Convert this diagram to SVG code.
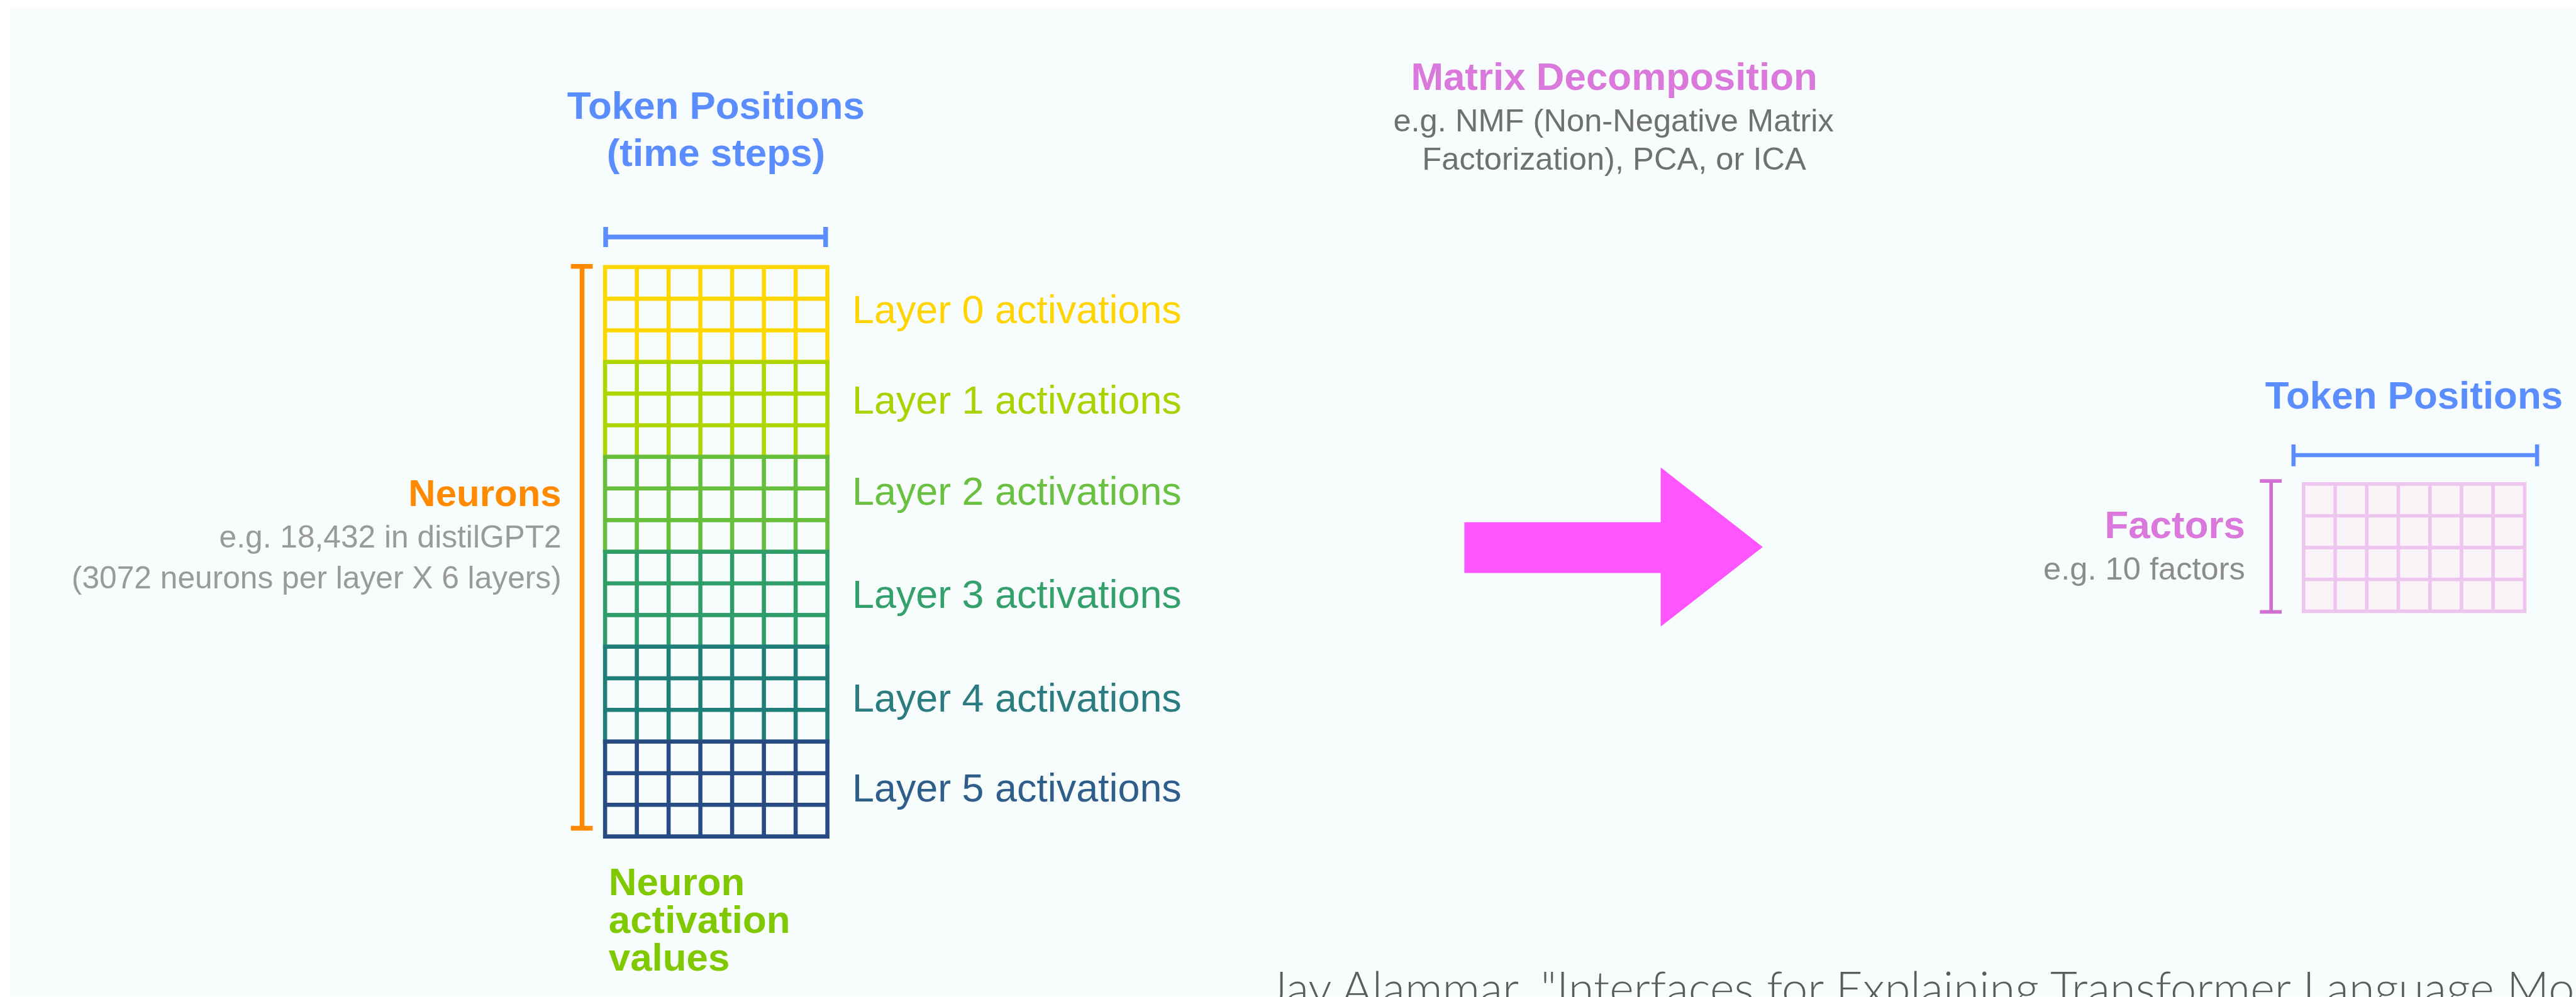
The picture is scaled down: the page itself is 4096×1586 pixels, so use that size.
<svg xmlns="http://www.w3.org/2000/svg" width="4096" height="1586" viewBox="0 0 4096 1586">
<style>
.b{font-family:"Liberation Sans",Arial,Helvetica,sans-serif;font-weight:bold}
.r{font-family:"Liberation Sans",Arial,Helvetica,sans-serif}
.mid{text-anchor:middle}
.end{text-anchor:end}
.grid{fill:none;stroke-width:7;stroke-linecap:square}
.brk{fill:none;stroke-width:8}
</style>
<rect width="4096" height="1586" fill="#ffffff"/>
<g transform="scale(0.937729)">
<rect x="17" y="15" width="4351" height="1676" fill="#F7FCFC"/>

<g id="token-positions-label">
<text class="b mid" x="1214" y="202" font-size="66" fill="#5B8DFF">Token Positions</text>
<text class="b mid" x="1214" y="282" font-size="66" fill="#5B8DFF">(time steps)</text>
<path class="brk" stroke="#5B8DFF" d="M1027,402H1400M1027,385V419M1400,385V419"/>
</g>

<g id="neurons-label">
<path class="brk" stroke="#FF8A00" d="M987,452V1405M968,452H1005M968,1405H1005"/>
<text class="b end" x="952" y="858" font-size="64" fill="#FF8A00">Neurons</text>
<text class="r end" x="952" y="929" font-size="53" fill="#9a9a9a">e.g. 18,432 in distilGPT2</text>
<text class="r end" x="952" y="998" font-size="53" fill="#9a9a9a">(3072 neurons per layer X 6 layers)</text>
</g>

<g id="activation-matrix">
<path class="grid" stroke="#FFD700" d="M1026,453H1403M1026,506.67H1403M1026,560.33H1403M1026,614H1403M1026,453V614M1079.86,453V614M1133.71,453V614M1187.57,453V614M1241.43,453V614M1295.29,453V614M1349.14,453V614M1403,453V614"/>
<path class="grid" stroke="#B0D400" d="M1026,614H1403M1026,667.67H1403M1026,721.33H1403M1026,775H1403M1026,614V775M1079.86,614V775M1133.71,614V775M1187.57,614V775M1241.43,614V775M1295.29,614V775M1349.14,614V775M1403,614V775"/>
<path class="grid" stroke="#66BE3A" d="M1026,775H1403M1026,828.67H1403M1026,882.33H1403M1026,936H1403M1026,775V936M1079.86,775V936M1133.71,775V936M1187.57,775V936M1241.43,775V936M1295.29,775V936M1349.14,775V936M1403,775V936"/>
<path class="grid" stroke="#2E9D68" d="M1026,936H1403M1026,989.67H1403M1026,1043.33H1403M1026,1097H1403M1026,936V1097M1079.86,936V1097M1133.71,936V1097M1187.57,936V1097M1241.43,936V1097M1295.29,936V1097M1349.14,936V1097M1403,936V1097"/>
<path class="grid" stroke="#1F7F78" d="M1026,1097H1403M1026,1150.67H1403M1026,1204.33H1403M1026,1258H1403M1026,1097V1258M1079.86,1097V1258M1133.71,1097V1258M1187.57,1097V1258M1241.43,1097V1258M1295.29,1097V1258M1349.14,1097V1258M1403,1097V1258"/>
<path class="grid" stroke="#284B84" d="M1026,1258H1403M1026,1311.67H1403M1026,1365.33H1403M1026,1419H1403M1026,1258V1419M1079.86,1258V1419M1133.71,1258V1419M1187.57,1258V1419M1241.43,1258V1419M1295.29,1258V1419M1349.14,1258V1419M1403,1258V1419"/>
</g>

<g id="layer-labels" class="r" font-size="67">
<text x="1445" y="548" fill="#FFD400">Layer 0 activations</text>
<text x="1445" y="702" fill="#A9D200">Layer 1 activations</text>
<text x="1445" y="856" fill="#6AC040">Layer 2 activations</text>
<text x="1445" y="1031" fill="#34A06C">Layer 3 activations</text>
<text x="1445" y="1207" fill="#2A7C80">Layer 4 activations</text>
<text x="1445" y="1360" fill="#2F5E8A">Layer 5 activations</text>
</g>

<g id="neuron-activation-values" class="b" font-size="66" fill="#80C800">
<text x="1032" y="1519">Neuron</text>
<text x="1032" y="1583">activation</text>
<text x="1032" y="1647">values</text>
</g>

<g id="matrix-decomposition">
<text class="b mid" x="2737" y="153" font-size="66" fill="#DA78DC">Matrix Decomposition</text>
<text class="r mid" x="2736" y="223" font-size="54" fill="#707070">e.g. NMF (Non-Negative Matrix</text>
<text class="r mid" x="2737" y="288" font-size="54" fill="#707070">Factorization), PCA, or ICA</text>
</g>

<g id="connectors">
<polygon points="2483,886 2816,886 2816,793 2989,928 2816,1063 2816,972 2483,972" fill="#FF55FF"/>
</g>

<g id="factor-matrix">
<text class="b" x="3841" y="693" font-size="66" fill="#5B8DFF">Token Positions</text>
<path fill="none" stroke="#5B8DFF" stroke-width="7" d="M3889,772H4302M3889,754V791M4302,754V791"/>
<path fill="none" stroke="#D070D0" stroke-width="6" d="M3851,816V1038M3832,816H3869M3832,1038H3869"/>
<rect x="3906" y="821" width="375" height="216" fill="#FAF3F8"/>
<path fill="none" stroke="#EEC5EE" stroke-width="6" stroke-linecap="square" d="M3906,821H4281M3906,875H4281M3906,929H4281M3906,983H4281M3906,1037H4281M3906,821V1037M3959.57,821V1037M4013.14,821V1037M4066.71,821V1037M4120.29,821V1037M4173.86,821V1037M4227.43,821V1037M4281,821V1037"/>
<text class="b end" x="3807" y="913" font-size="66" fill="#DA78DC">Factors</text>
<text class="r end" x="3807" y="983" font-size="54" fill="#8c8c8c">e.g. 10 factors</text>
</g>

<g id="citation">
<text x="2150" y="1705" font-family="Lato,'Liberation Sans',sans-serif" font-weight="300" font-size="79" fill="#5c5c5c">Jay Alammar. "Interfaces for Explaining Transformer Language Mo</text>
</g>
</g>
</svg>
